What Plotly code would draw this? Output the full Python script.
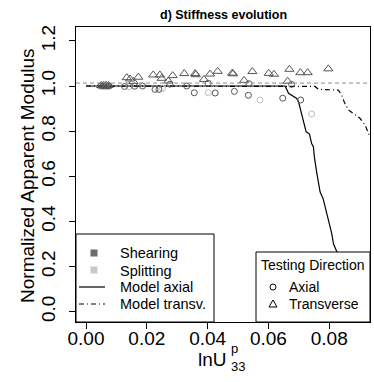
import plotly.graph_objects as go

# ---------------- data ----------------
shear_axial_x = [0.0048, 0.0056, 0.0063, 0.0070, 0.0076, 0.0127, 0.0160, 0.0186, 0.0227, 0.0240,
                 0.0276, 0.0331, 0.0356, 0.0425, 0.0402, 0.0488, 0.0534, 0.0536, 0.0647, 0.0676, 0.0706]
shear_axial_y = [1.000, 1.000, 1.000, 1.000, 1.000, 0.998, 0.999, 1.000, 0.985, 0.985,
                 1.008, 1.000, 0.970, 0.969, 1.012, 0.976, 0.959, 1.010, 0.946, 1.007, 0.938]

split_axial_x = [0.0141, 0.0252, 0.0402, 0.0572, 0.0742]
split_axial_y = [0.997, 0.990, 0.971, 0.938, 0.876]

shear_trans_x = [0.0050, 0.0058, 0.0066, 0.0074, 0.0134, 0.0145, 0.0156, 0.0172, 0.0221, 0.0243,
                 0.0249, 0.0271, 0.0285, 0.0323, 0.0359, 0.0361, 0.0388, 0.0408, 0.0433, 0.0481,
                 0.0484, 0.0520, 0.0547, 0.0601, 0.0618, 0.0663, 0.0669, 0.0705, 0.0729, 0.0797]
shear_trans_y = [1.002, 1.003, 1.003, 1.002, 1.037, 1.031, 1.020, 1.039, 1.049, 1.049,
                 1.034, 1.022, 1.046, 1.055, 1.055, 1.050, 1.029, 1.053, 1.065, 1.057,
                 1.054, 1.025, 1.064, 1.056, 1.052, 1.021, 1.074, 1.059, 1.059, 1.076]

model_axial_x = [0.0, 0.0655, 0.0666, 0.0682, 0.0693, 0.0699, 0.0706, 0.0715, 0.0724, 0.0735,
                 0.0742, 0.0748, 0.0751, 0.0759, 0.0770, 0.0780, 0.0792, 0.0808, 0.0814, 0.0825,
                 0.0840, 0.0855, 0.0868]
model_axial_y = [1.0, 1.0, 0.968, 0.953, 0.945, 0.930, 0.894, 0.852, 0.797, 0.787,
                 0.745, 0.730, 0.686, 0.615, 0.530, 0.500, 0.436, 0.347, 0.300, 0.266,
                 0.180, 0.090, 0.0]

model_trans_x = [0.0, 0.0660, 0.0700, 0.0753, 0.0765, 0.0830, 0.0841, 0.0849, 0.0863, 0.0880,
                 0.0893, 0.0901, 0.0918, 0.0929, 0.0945]
model_trans_y = [1.0, 1.0, 0.997, 0.998, 0.985, 0.982, 0.960, 0.930, 0.894, 0.879,
                 0.864, 0.857, 0.827, 0.790, 0.750]

ref_level = 1.013
x_ticks = [0.00, 0.02, 0.04, 0.06, 0.08]
x_tick_labels = ["0.00", "0.02", "0.04", "0.06", "0.08"]
y_ticks = [0.0, 0.2, 0.4, 0.6, 0.8, 1.0, 1.2]
y_tick_labels = ["0.0", "0.2", "0.4", "0.6", "0.8", "1.0", "1.2"]

# ---------------- styling ----------------
FONT = "Liberation Sans, Arial, sans-serif"
DARK = "#555555"
LIGHT = "#bdbdbd"
W, H = 374, 382
ML, MR, MT, MB = 76, 4, 27, 60
PW, PH = W - ML - MR, H - MT - MB


def px(x):
    return (x - ML) / PW


def py(y):
    return (H - MB - y) / PH


fig = go.Figure()

fig.add_trace(go.Scatter(x=model_trans_x, y=model_trans_y, mode="lines",
                         line=dict(color="black", width=1.2, dash="5px,3px,1px,3px"),
                         showlegend=False, hoverinfo="skip"))
fig.add_trace(go.Scatter(x=model_axial_x, y=model_axial_y, mode="lines",
                         line=dict(color="black", width=1.2),
                         showlegend=False, hoverinfo="skip"))
fig.add_trace(go.Scatter(x=split_axial_x, y=split_axial_y, mode="markers",
                         marker=dict(symbol="circle-open", size=6, color=LIGHT, line=dict(width=1)),
                         showlegend=False))
fig.add_trace(go.Scatter(x=shear_axial_x, y=shear_axial_y, mode="markers",
                         marker=dict(symbol="circle-open", size=6, color=DARK, line=dict(width=1)),
                         showlegend=False))
fig.add_trace(go.Scatter(x=shear_trans_x, y=shear_trans_y, mode="markers",
                         marker=dict(symbol="triangle-up-open", size=8, color=DARK, line=dict(width=1)),
                         showlegend=False))

shapes = []
# reference dashed line
shapes.append(dict(type="line", xref="x domain", x0=0, x1=1, yref="y", y0=ref_level, y1=ref_level,
                   line=dict(color="#8c8c8c", width=1, dash="4px,3px"), layer="above"))

# left legend box
shapes.append(dict(type="rect", xref="paper", yref="paper", x0=px(76), x1=px(214), y0=py(322), y1=py(234),
                   fillcolor="white", line=dict(color="black", width=1), layer="above"))
# right legend box
shapes.append(dict(type="rect", xref="paper", yref="paper", x0=px(256), x1=px(370), y0=py(322), y1=py(252),
                   fillcolor="white", line=dict(color="black", width=1), layer="above"))

# legend keys (left)
for yy, col in [(253, "#6b6b6b"), (270, "#c8c8c8")]:
    shapes.append(dict(type="rect", xref="paper", yref="paper", xsizemode="pixel", ysizemode="pixel",
                       xanchor=px(94), yanchor=py(yy), x0=-3.5, x1=3.5, y0=-3.5, y1=3.5,
                       fillcolor=col, line=dict(width=0), layer="above"))
shapes.append(dict(type="line", xref="paper", yref="paper", x0=px(79), x1=px(105), y0=py(287), y1=py(287),
                   line=dict(color="black", width=1.2), layer="above"))
shapes.append(dict(type="line", xref="paper", yref="paper", x0=px(79), x1=px(105), y0=py(304), y1=py(304),
                   line=dict(color="black", width=1.2, dash="5px,3px,1px,3px"), layer="above"))
# legend keys (right)
shapes.append(dict(type="circle", xref="paper", yref="paper", xsizemode="pixel", ysizemode="pixel",
                   xanchor=px(273), yanchor=py(287), x0=-3, x1=3, y0=-3, y1=3,
                   line=dict(color="black", width=1), layer="above"))
shapes.append(dict(type="path", xref="paper", yref="paper", xsizemode="pixel", ysizemode="pixel",
                   xanchor=px(273), yanchor=py(304), path="M-4,-3 L4,-3 L0,4 Z",
                   line=dict(color="black", width=1), layer="above"))

ann = []
LF = 14.5
for txt, yy in [("Shearing", 253), ("Splitting", 270.5), ("Model axial", 287), ("Model transv.", 304)]:
    ann.append(dict(text=txt, xref="paper", yref="paper", x=px(118), y=py(yy), xanchor="left",
                    yanchor="middle", showarrow=False, font=dict(size=LF, color="black", family=FONT)))
ann.append(dict(text="Testing Direction", xref="paper", yref="paper", x=px(258.5), y=py(265),
                xanchor="left", yanchor="middle", showarrow=False, font=dict(size=14, color="black", family=FONT)))
for txt, yy in [("Axial", 287), ("Transverse", 304)]:
    ann.append(dict(text=txt, xref="paper", yref="paper", x=px(287), y=py(yy), xanchor="left",
                    yanchor="middle", showarrow=False, font=dict(size=14, color="black", family=FONT)))

# title
ann.append(dict(text="<b>d) Stiffness evolution</b>", xref="paper", yref="paper", x=0.5, y=py(15),
                xanchor="center", yanchor="middle", showarrow=False,
                font=dict(size=12.5, color="black", family=FONT)))
# y axis title
ann.append(dict(text="Normalized Apparent Modulus", xref="paper", yref="paper", x=px(28), y=0.495,
                xanchor="center", yanchor="middle", textangle=-90, showarrow=False,
                font=dict(size=19, color="black", family=FONT)))
# x axis title  lnU with stacked sup/sub
ann.append(dict(text="lnU", xref="paper", yref="paper", x=px(228.5), y=py(359), xanchor="right",
                yanchor="middle", showarrow=False, font=dict(size=19, color="black", family=FONT)))
ann.append(dict(text="p", xref="paper", yref="paper", x=px(229), y=py(348), xanchor="left",
                yanchor="middle", showarrow=False, font=dict(size=13, color="black", family=FONT)))
ann.append(dict(text="33", xref="paper", yref="paper", x=px(229), y=py(366), xanchor="left",
                yanchor="middle", showarrow=False, font=dict(size=13, color="black", family=FONT)))

fig.update_layout(
    width=W, height=H,
    margin=dict(l=ML, r=MR, t=MT, b=MB, pad=0),
    paper_bgcolor="white", plot_bgcolor="white",
    showlegend=False,
    font=dict(family=FONT, color="black"),
    shapes=shapes, annotations=ann,
)
fig.update_xaxes(range=[-0.00329, 0.0934], tickvals=x_ticks, ticktext=x_tick_labels,
                 showgrid=False, zeroline=False, showline=True, linecolor="black", linewidth=1,
                 mirror=True, ticks="outside", ticklen=6, tickcolor="black", tickwidth=1,
                 ticklabelstandoff=-7,
                 tickfont=dict(size=19, family=FONT, color="black"))
fig.update_yaxes(range=[-0.0456, 1.2614], tickvals=y_ticks, ticktext=y_tick_labels, tickangle=-90,
                 showgrid=False, zeroline=False, showline=True, linecolor="black", linewidth=1,
                 mirror=True, ticks="outside", ticklen=6, tickcolor="black", tickwidth=1,
                 ticklabelstandoff=6,
                 tickfont=dict(size=19, family=FONT, color="black"))

fig.write_html("out.html")
